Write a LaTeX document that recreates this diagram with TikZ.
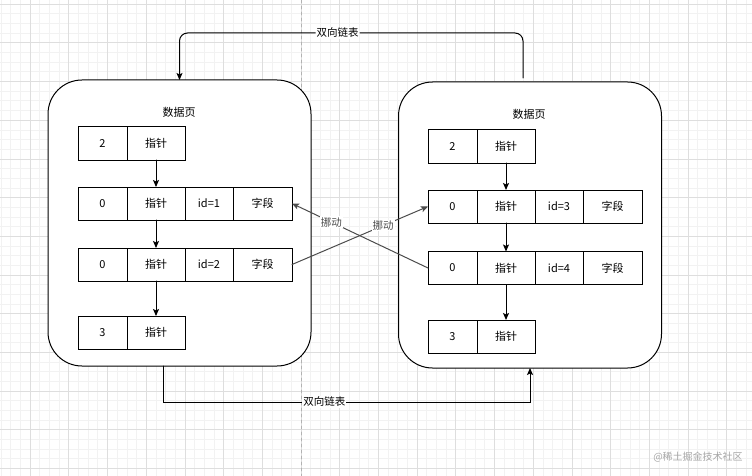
\documentclass[tikz,border=0pt]{standalone}
\usepackage{fontspec}
\newfontfamily\cjk{Noto Sans CJK SC}
\usetikzlibrary{arrows.meta,positioning}

\begin{document}
\begin{tikzpicture}[x=1pt,y=-1pt,>={Stealth[length=7pt,width=6pt,inset=1.5pt]},
  font=\cjk\fontsize{11}{13}\selectfont,line cap=round,
  page/.style={draw,line width=1pt,fill=white,rounded corners=34pt,minimum width=263pt,minimum height=286pt,inner sep=0pt,outer sep=0pt},
  cell/.style={draw,line width=1pt,minimum height=33pt,inner sep=0pt,outer sep=0pt},
  numcell/.style={cell,minimum width=49pt},
  ptrcell/.style={cell,minimum width=58pt},
  idcell/.style={cell,minimum width=48pt},
  fieldcell/.style={cell,minimum width=59pt},
  link/.style={->,line width=1pt},
  move/.style={->,line width=1pt,black!70},
  lbl/.style={fill=white,inner sep=1pt,font=\cjk\fontsize{10.5}{12}\selectfont}]
\useasboundingbox (0,0) rectangle (752,476);
\fill[white] (0,0) rectangle (752,476);
% background grid
\draw[black!5,line width=0.5pt,step=9.675pt,shift={(30,4)}] (-30,-4) grid (722,472);
\draw[black!13,line width=0.6pt,step=38.7pt,shift={(30,4)}] (-30,-4) grid (722,472);
\draw[black!30,line width=0.6pt,dashed] (301,0) -- (301,476);

% the two pages
\node[page] (lpage) at (179.5,223) {};
\node[page] (rpage) at (530,225) {};
\node (ltitle) at (179,112) {数据页};
\node (rtitle) at (529,114) {数据页};

% left page
\node[numcell] (l1a) at (102.5,143.5) {2};
\node[ptrcell,right=0pt of l1a] (l1b) {指针};
\node[numcell] (l2a) at (102.5,203.5) {0};
\node[ptrcell,right=0pt of l2a] (l2b) {指针};
\node[idcell,right=0pt of l2b] (l2c) {id=1};
\node[fieldcell,right=0pt of l2c] (l2d) {字段};
\node[numcell] (l3a) at (102.5,264.5) {0};
\node[ptrcell,right=0pt of l3a] (l3b) {指针};
\node[idcell,right=0pt of l3b] (l3c) {id=2};
\node[fieldcell,right=0pt of l3c] (l3d) {字段};
\node[numcell] (l4a) at (102.5,332.5) {3};
\node[ptrcell,right=0pt of l4a] (l4b) {指针};
\draw[link] (l1b) -- (l2b);
\draw[link] (l2b) -- (l3b);
\draw[link] (l3b) -- (l4b);

% right page
\node[numcell] (r1a) at (452.5,146.5) {2};
\node[ptrcell,right=0pt of r1a] (r1b) {指针};
\node[numcell] (r2a) at (452.5,206.5) {0};
\node[ptrcell,right=0pt of r2a] (r2b) {指针};
\node[idcell,right=0pt of r2b] (r2c) {id=3};
\node[fieldcell,right=0pt of r2c] (r2d) {字段};
\node[numcell] (r3a) at (452.5,268) {0};
\node[ptrcell,right=0pt of r3a] (r3b) {指针};
\node[idcell,right=0pt of r3b] (r3c) {id=4};
\node[fieldcell,right=0pt of r3c] (r3d) {字段};
\node[numcell] (r4a) at (452.5,336.5) {3};
\node[ptrcell,right=0pt of r4a] (r4b) {指针};
\draw[link] (r1b) -- (r2b);
\draw[link] (r2b) -- (r3b);
\draw[link] (r3b) -- (r4b);

% rows moved across
\draw[move] (l3d.east) -- node[lbl,pos=0.67] (lmove) {挪动} (r2a.west);
\draw[move] (r3a.west) -- node[lbl,pos=0.71] (rmove) {挪动} (l2d.east);

% doubly linked list between pages
\draw[link,rounded corners=8pt] ([xshift=-7pt,yshift=4pt]rpage.north) |- node[lbl,pos=0.77] (toplbl) {双向链表} ([yshift=47pt]lpage.north) -- (lpage.north);
\draw[link] ([xshift=-16.5pt]lpage.south) |- node[lbl,pos=0.72] (botlbl) {双向链表} ([yshift=-34pt]rpage.south) -- (rpage.south);

\node[text=black!35,font=\cjk\fontsize{10}{12}\selectfont] (mark) at (698,457) {@稀土掘金技术社区};
\end{tikzpicture}
\end{document}
